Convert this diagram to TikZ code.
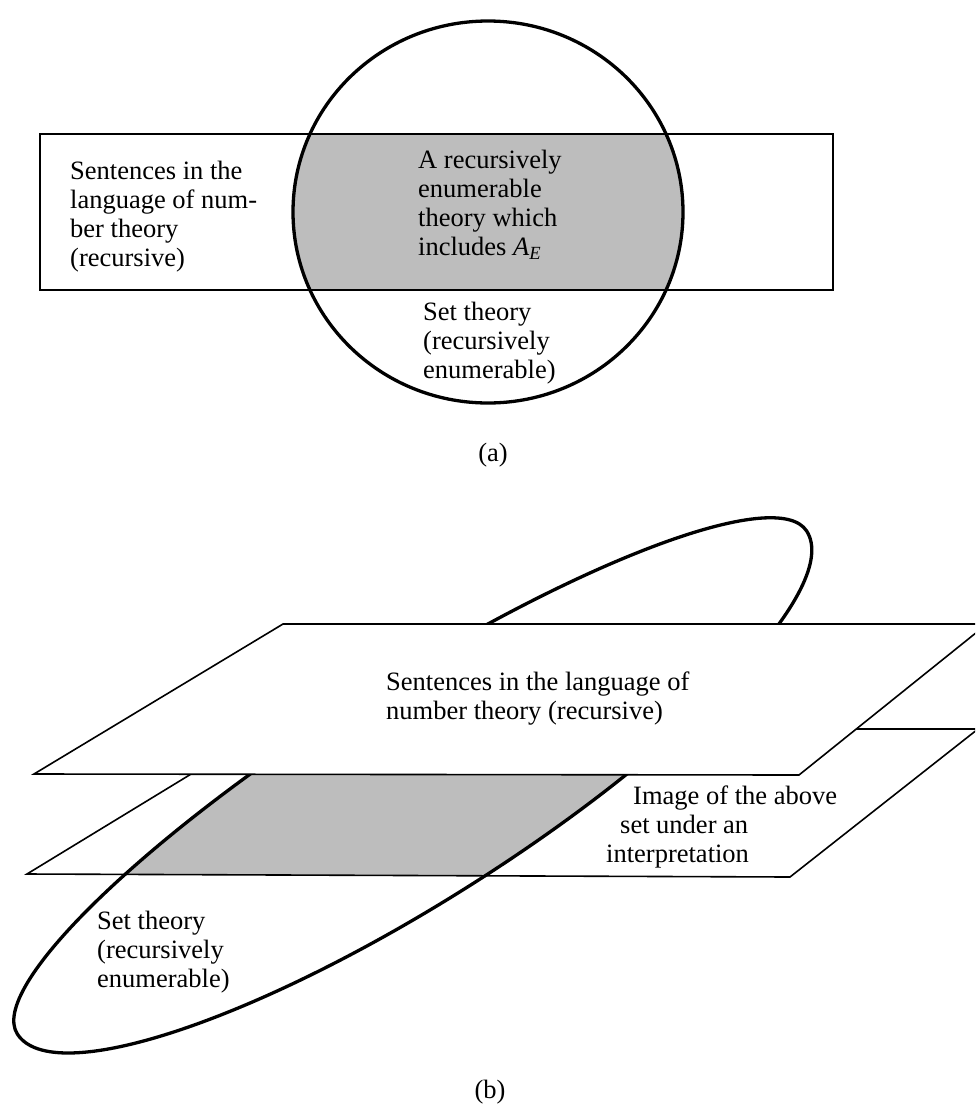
\documentclass[tikz,border=0pt]{standalone}
\usepackage{fontspec}
\setmainfont{Liberation Serif}
\definecolor{shadegray}{gray}{0.74}
\begin{document}
\begin{tikzpicture}[x=1pt,y=-1pt,
  thinline/.style={line width=1.6pt, line join=miter},
  thickline/.style={line width=3.3pt},
  shaded/.style={fill=shadegray},
  ellframe/.style={shift={(412,782.5)}, rotate=32.5},
  lbl/.style={anchor=north west, inner sep=0pt, align=left, font=\fontsize{26.5}{29}\selectfont},
  figcap/.style={inner sep=0pt, font=\fontsize{26.5}{29}\selectfont}]
\clip (0,0) rectangle (975,1106);
\fill[white] (0,0) rectangle (975,1106);

% ---------- (a) ----------
\begin{scope}
  \clip (488,212) ellipse [x radius=195, y radius=191];
  \fill[shaded] (40,134) rectangle (833,290);
\end{scope}
\draw[thinline] (40,134) rectangle (833,290);
\draw[thickline] (488,212) ellipse [x radius=195, y radius=191];

\node[lbl] (numa) at (70,161) {Sentences in the\\language of num-\\ber theory\\(recursive)};
\node[lbl] (rea) at (418,150) {A recursively\\enumerable\\theory which\\includes \textit{A}\textsubscript{\textit{E}}};
\node[lbl] (seta) at (423,302) {Set theory\\(recursively\\enumerable)};
\node[figcap] (capa) at (493,455) {(a)};

% ---------- (b) ----------
\begin{scope}
  \clip[ellframe] (468,0) arc[start angle=0, end angle=180, x radius=468, y radius=118]
        arc[start angle=180, end angle=360, x radius=468, y radius=98] -- cycle;
  \fill[shaded] (265,729) -- (978,729) -- (790,877) -- (27,874) -- cycle;
\end{scope}
\draw[thinline] (265,729) -- (978,729) -- (790,877) -- (27,874) -- cycle;
\draw[thickline, ellframe] (468,0) arc[start angle=0, end angle=180, x radius=468, y radius=118]
        arc[start angle=180, end angle=360, x radius=468, y radius=98] -- cycle;
\filldraw[thinline, fill=white] (283,624) -- (987,624) -- (799,775) -- (34,774) -- cycle;

\node[lbl] (numb) at (386,672) {Sentences in the language of\\number theory (recursive)};
\node[lbl] (imgb) at (606,786) {\hspace*{27pt}Image of the above\\\hspace*{14pt}set under an\\interpretation};
\node[lbl] (setb) at (97,911) {Set theory\\(recursively\\enumerable)};
\node[figcap] (capb) at (490,1092) {(b)};
\end{tikzpicture}
\end{document}
